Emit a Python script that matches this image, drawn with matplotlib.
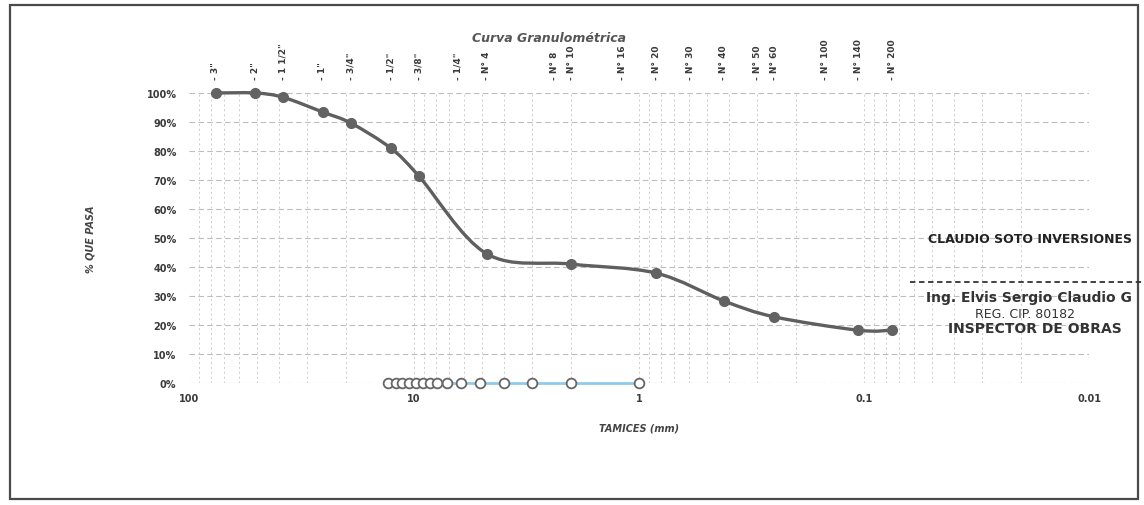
import numpy as np
import matplotlib.pyplot as plt
from matplotlib.path import Path
from matplotlib.patches import PathPatch, Rectangle
from matplotlib.lines import Line2D

# sieve series (top axis labels)
sieve_labels = ['3"', '2"', '1 1/2"', '1"', '3/4"', '1/2"', '3/8"', '1/4"', 'N° 4', 'N° 8',
                'N° 10', 'N° 16', 'N° 20', 'N° 30', 'N° 40', 'N° 50', 'N° 60', 'N° 100',
                'N° 140', 'N° 200']
sieve_mm = [76.2, 50.8, 38.1, 25.4, 19.05, 12.7, 9.525, 6.35, 4.76, 2.38,
            2.0, 1.19, 0.84, 0.59, 0.42, 0.297, 0.25, 0.149, 0.106, 0.075]

# grading curve
curve_mm = [76.2, 50.8, 38.1, 25.4, 19.05, 12.7, 9.525, 4.76, 2.0, 0.84, 0.42, 0.25, 0.106, 0.075]
curve_pass = [100, 100, 98.5, 93.4, 89.6, 81.0, 71.4, 44.6, 41.0, 37.9, 28.3, 22.8, 18.2, 18.2]

# second series (empty markers at 0 %)
aux_mm = [13, 12, 11.3, 10.5, 9.8, 9.1, 8.5, 7.9, 7.1, 6.2, 5.1, 4.0, 3.0, 2.0, 1.0]
aux_pass = [0] * len(aux_mm)

x_ticks = [100, 10, 1, 0.1, 0.01]
x_ticklabels = ['100', '10', '1', '0.1', '0.01']
y_ticks = list(range(0, 101, 10))


def smooth_path(xs, ys):
    # cubic bezier through the points (like excel "smoothed line"), built in log-x space
    lx = np.log10(xs)
    ys = np.asarray(ys, dtype=float)
    n = len(lx)
    verts = [(xs[0], ys[0])]
    codes = [Path.MOVETO]
    for i in range(n - 1):
        p0 = (lx[max(i - 1, 0)], ys[max(i - 1, 0)])
        p1 = (lx[i], ys[i])
        p2 = (lx[i + 1], ys[i + 1])
        p3 = (lx[min(i + 2, n - 1)], ys[min(i + 2, n - 1)])
        c1 = (p1[0] + (p2[0] - p0[0]) / 6, p1[1] + (p2[1] - p0[1]) / 6)
        c2 = (p2[0] - (p3[0] - p1[0]) / 6, p2[1] - (p3[1] - p1[1]) / 6)
        for c in (c1, c2, p2):
            verts.append((10 ** c[0], c[1]))
        codes += [Path.CURVE4] * 3
    return Path(verts, codes)


fig = plt.figure(figsize=(11.44, 5.06), dpi=100)
ax = fig.add_axes([189 / 1144, 122 / 506, 900 / 1144, 290 / 506])

ax.set_xscale('log')
ax.set_xlim(100, 0.01)
ax.set_ylim(0, 100)

# grid
for yv in y_ticks:
    ax.axhline(yv, color='#bdbdbd', lw=0.8, ls=(0, (5, 3)), zorder=0)
for dec in [10, 1, 0.1, 0.01]:
    for m in range(1, 10):
        xv = dec * m
        if 0.01 <= xv <= 100:
            ax.axvline(xv, color='#cccccc', lw=0.7, ls=(0, (2, 3)), zorder=0)

# second series
ax.plot(aux_mm, aux_pass, color='#8fcbea', lw=2, zorder=2, clip_on=False)
ax.plot(aux_mm, aux_pass, ls='none', marker='o', ms=7, mfc='white', mec='#666666',
        mew=1.3, zorder=3, clip_on=False)

# grading curve
ax.add_patch(PathPatch(smooth_path(curve_mm, curve_pass), fill=False, ec='#5f5f5f',
                       lw=2.4, zorder=4, clip_on=False))
ax.plot(curve_mm, curve_pass, ls='none', marker='o', ms=7, color='#636363', zorder=5,
        clip_on=False)

for s in ax.spines.values():
    s.set_visible(False)

ax.set_xticks(x_ticks)
ax.set_xticklabels(x_ticklabels)
ax.xaxis.set_minor_locator(plt.NullLocator())
ax.set_yticks(y_ticks)
ax.set_yticklabels([f'{v}%' for v in y_ticks])
ax.tick_params(axis='both', length=0, labelsize=7, labelcolor='#3a3a3a')
ax.tick_params(axis='x', pad=7)
ax.tick_params(axis='y', pad=9)
for lab in ax.get_yticklabels() + ax.get_xticklabels():
    lab.set_fontweight('bold')

ax.set_xlabel('TAMICES (mm)', fontsize=7, fontstyle='italic', fontweight='bold',
              color='#444444', labelpad=14)
ax.set_ylabel('% QUE PASA', fontsize=7, fontstyle='italic', fontweight='bold',
              color='#444444', labelpad=37)

top = ax.secondary_xaxis('top')
top.set_xticks(sieve_mm)
top.set_xticklabels(['- ' + s for s in sieve_labels], rotation=90, fontsize=6.5,
                    fontweight='bold', color='#3a3a3a')
top.xaxis.set_minor_locator(plt.NullLocator())
top.tick_params(length=0, pad=10)
top.spines['top'].set_visible(False)

fig.text(549 / 1144, 1 - 38 / 506, 'Curva Granulométrica', ha='center', va='center',
         fontsize=9, fontstyle='italic', fontweight='bold', color='#555555')

# stamp
fig.text(928 / 1144, 1 - 240 / 506, 'CLAUDIO SOTO INVERSIONES', ha='left', va='center',
         fontsize=9, fontweight='bold', color='#222222')
fig.add_artist(Line2D([910 / 1144, 1.0], [1 - 283 / 506, 1 - 283 / 506],
                      color='#333333', lw=1.3, ls=(0, (3, 2))))
fig.text(926 / 1144, 1 - 298 / 506, 'Ing. Elvis Sergio Claudio G', ha='left', va='center',
         fontsize=10, fontweight='bold', color='#333333')
fig.text(975 / 1144, 1 - 315 / 506, 'REG. CIP. 80182', ha='left', va='center',
         fontsize=9, color='#333333')
fig.text(948 / 1144, 1 - 329 / 506, 'INSPECTOR DE OBRAS', ha='left', va='center',
         fontsize=10, fontweight='bold', color='#333333')

# outer frame
fig.add_artist(Rectangle((10 / 1144, 6 / 506), 1128 / 1144, 494 / 506, fill=False,
                         ec='#4a4a4a', lw=1.6, transform=fig.transFigure))

fig.savefig('out.png', dpi=100)
